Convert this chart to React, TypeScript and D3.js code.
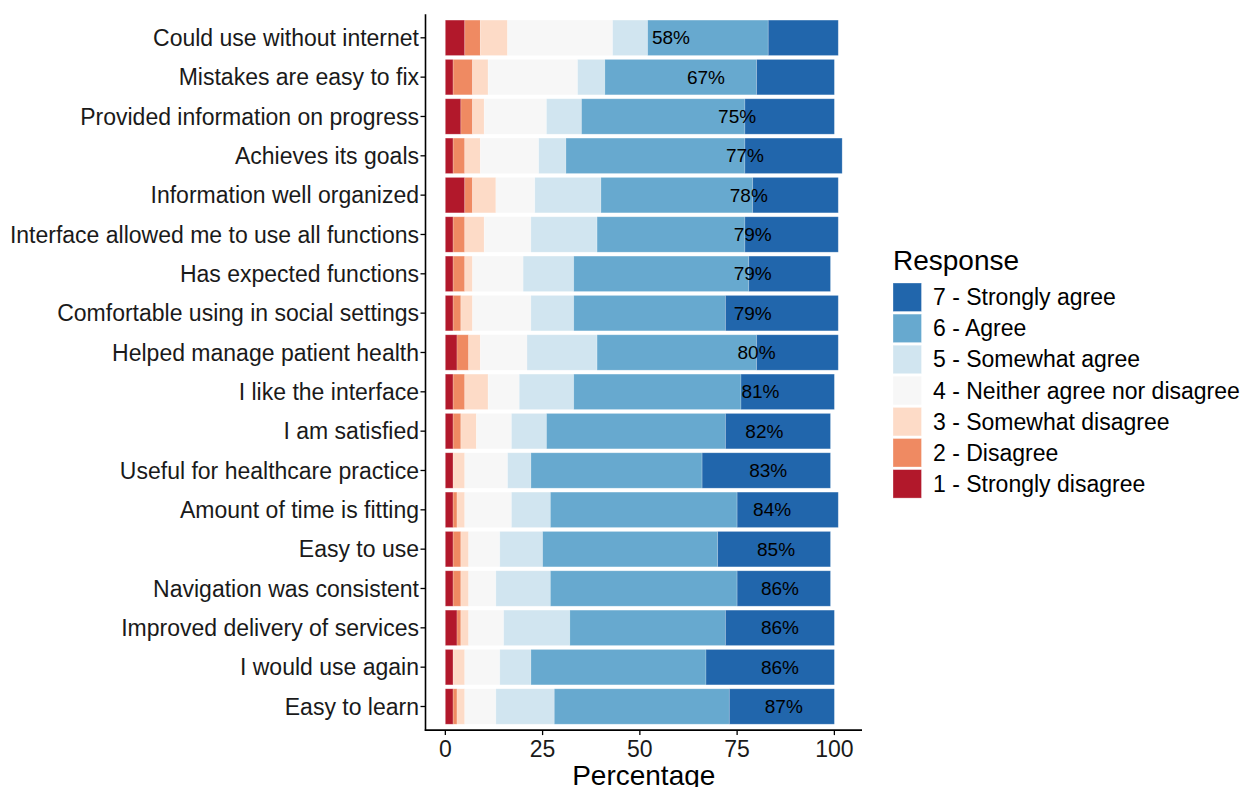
import React from "react";
import * as d3 from "d3";

const categories = [
  "Could use without internet",
  "Mistakes are easy to fix",
  "Provided information on progress",
  "Achieves its goals",
  "Information well organized",
  "Interface allowed me to use all functions",
  "Has expected functions",
  "Comfortable using in social settings",
  "Helped manage patient health",
  "I like the interface",
  "I am satisfied",
  "Useful for healthcare practice",
  "Amount of time is fitting",
  "Easy to use",
  "Navigation was consistent",
  "Improved delivery of services",
  "I would use again",
  "Easy to learn",
];

const levels = [
  "1 - Strongly disagree",
  "2 - Disagree",
  "3 - Somewhat disagree",
  "4 - Neither agree nor disagree",
  "5 - Somewhat agree",
  "6 - Agree",
  "7 - Strongly agree",
];

const s1 = [5, 2, 4, 2, 5, 2, 2, 2, 3, 2, 2, 2, 2, 2, 2, 3, 2, 2];
const s2 = [4, 5, 3, 3, 2, 3, 3, 2, 3, 3, 2, 0, 1, 2, 2, 1, 0, 1];
const s3 = [7, 4, 3, 4, 6, 5, 2, 3, 3, 6, 4, 3, 2, 2, 2, 2, 3, 2];
const s4 = [27, 23, 16, 15, 10, 12, 13, 15, 12, 8, 9, 11, 12, 8, 7, 9, 9, 8];
const s5 = [9, 7, 9, 7, 17, 17, 13, 11, 18, 14, 9, 6, 10, 11, 14, 17, 8, 15];
const s6 = [31, 39, 42, 46, 39, 38, 45, 39, 41, 43, 46, 44, 48, 45, 48, 40, 45, 45];
const s7 = [18, 20, 23, 25, 22, 24, 21, 29, 21, 24, 27, 33, 26, 29, 24, 28, 33, 27];

const agreeLabels = [58, 67, 75, 77, 78, 79, 79, 79, 80, 81, 82, 83, 84, 85, 86, 86, 86, 87];

const xTicks = [0, 25, 50, 75, 100];

const colors = ["#b2182b", "#ef8a62", "#fddbc7", "#f7f7f7", "#d1e5f0", "#67a9cf", "#2166ac"];

const FONT = "'Liberation Sans', Arial, Helvetica, sans-serif";

export default function App() {
  const series = [s1, s2, s3, s4, s5, s6, s7];
  const rows = categories.map((c, i) => {
    const o: any = { cat: c };
    levels.forEach((l, k) => (o[l] = series[k][i]));
    return o;
  });
  const stacked = d3.stack<any>().keys(levels)(rows);
  const maxTotal = d3.max(rows, (r) => d3.sum(levels, (l) => r[l])) as number;
  const pad = maxTotal * 0.05;

  const left = 425.5, right = 862, top = 14.2, bottom = 730.1;
  const x = d3.scaleLinear().domain([-pad, maxTotal + pad]).range([left, right]);
  const y = d3.scalePoint<string>().domain(categories).range([top, bottom]).padding(0.6);
  const step = y.step();
  const bh = step * 0.9;

  const legendOrder = [...levels].reverse();
  const legendColor = d3.scaleOrdinal<string, string>().domain(levels).range(colors);

  return (
    <svg width={1242} height={787} style={{ position: "absolute", left: 0, top: 0, background: "#fff" }} fontFamily={FONT}>
      <rect x={0} y={0} width={1242} height={787} fill="#fff" />
      {stacked.map((layer, k) => (
        <g key={k} fill={colors[k]}>
          {layer.map((d, i) =>
            d[1] - d[0] > 0 ? (
              <rect
                key={i}
                x={x(d[0])}
                width={x(d[1]) - x(d[0])}
                y={(y(categories[i]) as number) - bh / 2}
                height={bh}
                stroke="#ffffff"
                strokeOpacity={0.25}
                strokeWidth={0.8}
              />
            ) : null
          )}
        </g>
      ))}
      {categories.map((c, i) => (
        <text key={c} x={x(agreeLabels[i])} y={y(c) as number} dy="0.35em" textAnchor="middle" fontSize={19} fill="#000">
          {agreeLabels[i]}%
        </text>
      ))}
      {/* y axis */}
      <line x1={left} x2={left} y1={top} y2={bottom + 0.75} stroke="#000" strokeWidth={1.6} />
      {categories.map((c) => (
        <g key={c}>
          <line x1={left - 5} x2={left} y1={y(c)} y2={y(c)} stroke="#000" strokeWidth={1.3} />
          <text x={419} y={y(c) as number} dy="0.35em" textAnchor="end" fontSize={23} fill="#1a1a1a">
            {c}
          </text>
        </g>
      ))}
      {/* x axis */}
      <line x1={left - 0.75} x2={right} y1={bottom} y2={bottom} stroke="#000" strokeWidth={1.6} />
      {xTicks.map((t) => (
        <g key={t}>
          <line x1={x(t)} x2={x(t)} y1={bottom} y2={bottom + 5} stroke="#000" strokeWidth={1.3} />
          <text x={x(t)} y={756.7} textAnchor="middle" fontSize={23} fill="#1a1a1a">
            {t}
          </text>
        </g>
      ))}
      <text x={(left + right) / 2} y={785} textAnchor="middle" fontSize={28}>
        Percentage
      </text>
      {/* legend */}
      <text x={893} y={269.5} fontSize={28}>
        Response
      </text>
      {legendOrder.map((l, j) => (
        <g key={l} transform={`translate(893,${283 + j * 31.1})`}>
          <rect x={0} y={0} width={28.5} height={28.5} fill={legendColor(l)} stroke="#fff" strokeOpacity={0.4} strokeWidth={0.8} />
          <text x={40} y={14.2} dy="0.35em" fontSize={23} fill="#000">
            {l}
          </text>
        </g>
      ))}
    </svg>
  );
}
